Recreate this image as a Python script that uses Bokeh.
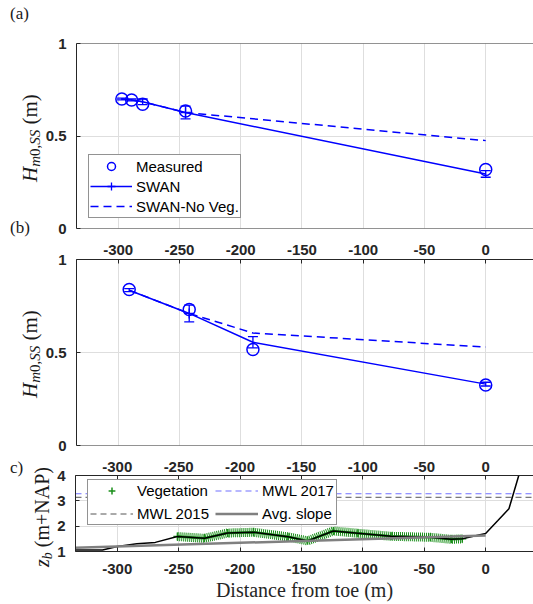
import numpy as np
from bokeh.plotting import figure
from bokeh.models import (ColumnDataSource, Whisker, TeeHead, Legend, LegendItem, Div,
                          FixedTicker, LinearAxis, Range1d, Span)
from bokeh.layouts import column, row
from bokeh.embed import file_html
from bokeh.resources import INLINE

# ---------------- data ----------------
x_ticks = [-300, -250, -200, -150, -100, -50, 0]
x_tick_labels = ["-300", "-250", "-200", "-150", "-100", "-50", "0"]
h_ticks = [0, 0.5, 1]
h_tick_labels = ["0", "0.5", "1"]
z_ticks = [1, 2, 3, 4]
z_tick_labels = ["1", "2", "3", "4"]

# panel (a)
a_x = [-297, -289, -280, -245, 0]
a_measured = [0.700, 0.695, 0.672, 0.635, 0.319]
a_swan = [0.700, 0.695, 0.685, 0.627, 0.295]
a_swan_err = [0.005, 0.005, 0.015, 0.034, 0.018]
a_swan_noveg = [0.700, 0.695, 0.685, 0.627, 0.475]

# panel (b)
b_x = [-291, -242, -190, 0]
b_measured = [0.839, 0.731, 0.516, 0.325]
b_swan = [0.835, 0.710, 0.555, 0.330]
b_swan_err = [0.008, 0.045, 0.030, 0.010]
b_swan_noveg = [0.835, 0.710, 0.605, 0.529]

# panel (c)
bed_x = [-334, -312, -300, -284, -269, -251, -229, -210, -189, -161, -145, -124,
         -104, -77, -45, -28, -19, 0, 10, 19, 27, 32]
bed_z = [1.06, 1.06, 1.20, 1.31, 1.36, 1.59, 1.52, 1.73, 1.76, 1.58, 1.42, 1.81,
         1.72, 1.60, 1.56, 1.48, 1.50, 1.71, 2.22, 2.69, 4.0, 4.6]
veg_x = [-251, -229, -210, -189, -161, -145, -124, -104, -77, -45, -28, -19]
veg_z = [1.59, 1.52, 1.73, 1.76, 1.58, 1.42, 1.81, 1.72, 1.60, 1.56, 1.48, 1.50]
slope_x = [-334, 0]
slope_z = [1.15, 1.63]
mwl_2017 = 3.28
mwl_2015 = 3.14

# ---------------- style ----------------
X0, X1 = -334, 39
W = 533
AXC = "#262626"
GRID = "#dedede"
BLUE = "#0000ff"
GREEN = "#1a8f1a"
SANS = "Liberation Sans"
SERIF = "Liberation Serif"
FRAME_LEFT = 75

x_over = dict(zip(x_ticks, x_tick_labels))
h_over = dict(zip(h_ticks, h_tick_labels))
z_over = dict(zip(z_ticks, z_tick_labels))


def style_axis(ax, ticks, overrides, standoff):
    ax.ticker = FixedTicker(ticks=ticks)
    ax.major_label_overrides = overrides
    ax.axis_line_color = AXC
    ax.major_tick_line_color = AXC
    ax.major_tick_in = 4
    ax.major_tick_out = 0
    ax.minor_tick_line_color = None
    ax.major_label_text_font = SANS
    ax.major_label_text_font_style = "bold"
    ax.major_label_text_font_size = "15px"
    ax.major_label_text_color = AXC
    ax.major_label_standoff = standoff


def make_fig(lw, h, top, bottom, yr, yticks, yover):
    p = figure(width=W - lw, height=h, x_range=Range1d(X0, X1), y_range=Range1d(*yr),
               output_backend="svg", toolbar_location=None,
               min_border_left=FRAME_LEFT - lw, min_border_right=0,
               min_border_top=top, min_border_bottom=bottom)
    p.outline_line_color = None
    style_axis(p.xaxis[0], x_ticks, x_over, 12)
    style_axis(p.yaxis[0], yticks, yover, 10)
    p.xgrid.ticker = FixedTicker(ticks=x_ticks)
    p.ygrid.ticker = FixedTicker(ticks=yticks)
    p.xgrid.grid_line_color = GRID
    p.ygrid.grid_line_color = GRID
    return p


def add_top_labels(p, standoff):
    top = LinearAxis()
    style_axis(top, x_ticks, x_over, standoff)
    p.add_layout(top, "above")


def span_html(html, left, top, size, rotate):
    rot = "transform:rotate(-90deg);transform-origin:0 0;" if rotate else ""
    return (f'<span style="position:absolute;left:{left}px;top:{top}px;'
            f'font-family:\'{SERIF}\';font-size:{size}px;line-height:1;white-space:nowrap;'
            f'color:#1a1a1a;{rot}">{html}</span>')


def side_div(lw, h, pieces):
    inner = "".join(pieces)
    html = (f'<div style="position:relative;width:{lw}px;height:{h}px;margin:0;padding:0;">'
            f'{inner}</div>')
    return Div(text=html, width=lw, height=h, margin=0)


H_HTML = ('<i>H</i><sub style="font-size:15px;vertical-align:-3px;"><i>m</i>0,<i>SS</i></sub>'
          '&nbsp;(m)')
Z_HTML = ('<i>z</i><sub style="font-size:14px;vertical-align:-3px;"><i>b</i></sub>'
          '&nbsp;(m+NAP)')


def wave_panel(p, xs, meas, swan, err, noveg, bar_index):
    src = ColumnDataSource(dict(x=xs, meas=meas, swan=swan, noveg=noveg,
                                lo=[s - e for s, e in zip(swan, err)],
                                hi=[s + e for s, e in zip(swan, err)]))
    r_nov = p.line("x", "noveg", source=src, line_color=BLUE, line_width=1.5, line_dash="8 5")
    r_swan = p.line("x", "swan", source=src, line_color=BLUE, line_width=1.5)
    p.add_layout(Whisker(source=src, base="x", lower="lo", upper="hi",
                         line_color=BLUE, line_width=1.3,
                         lower_head=TeeHead(size=10, line_color=BLUE, line_width=1.3),
                         upper_head=TeeHead(size=10, line_color=BLUE, line_width=1.3)))
    bar_src = ColumnDataSource(dict(x=[xs[bar_index]], y=[swan[bar_index]]))
    r_bar = p.scatter("x", "y", source=bar_src, marker="cross", size=10,
                      line_color=BLUE, line_width=1.3)
    r_meas = p.scatter("x", "meas", source=src, marker="circle", size=12,
                       fill_color=None, line_color=BLUE, line_width=1.5)
    return r_meas, r_swan, r_bar, r_nov


# ---------------- panel (a) ----------------
LA, HA = 42, 237
pa = make_fig(LA, HA, 43, 9, (0, 1), h_ticks, h_over)
pa.xaxis.visible = False
pa.add_layout(Span(location=1, dimension="width", line_color=AXC, line_width=1))
pa.add_layout(Span(location=0, dimension="width", line_color=AXC, line_width=1))
ra_meas, ra_swan, ra_bar, ra_nov = wave_panel(pa, a_x, a_measured, a_swan, a_swan_err,
                                              a_swan_noveg, 3)
leg_a = Legend(items=[LegendItem(label="Measured", renderers=[ra_meas]),
                      LegendItem(label="SWAN", renderers=[ra_swan, ra_bar]),
                      LegendItem(label="SWAN-No Veg.", renderers=[ra_nov])],
               location=(12, 10), label_text_font=SANS, label_text_font_size="15px",
               label_text_color="black", glyph_width=42, glyph_height=20, label_height=20,
               padding=1, spacing=0, label_standoff=4, margin=0,
               border_line_color=AXC, border_line_width=1, background_fill_alpha=1)
pa.add_layout(leg_a)
sa = side_div(LA, HA, [span_html(H_HTML, 20, 182, 21, True),
                       span_html("(a)", 10, 5, 17, False),
                       span_html("(b)", 10, 219, 17, False)])

# ---------------- panel (b) ----------------
LB, HB = 42, 217
pb = make_fig(LB, HB, 22, 9, (0, 1), h_ticks, h_over)
pb.xaxis.visible = False
add_top_labels(pb, 5)          # tick labels belonging to panel (a)
pb.add_layout(Span(location=1, dimension="width", line_color=AXC, line_width=1))
pb.add_layout(Span(location=0, dimension="width", line_color=AXC, line_width=1))
wave_panel(pb, b_x, b_measured, b_swan, b_swan_err, b_swan_noveg, 1)
sb = side_div(LB, HB, [span_html(H_HTML, 20, 161, 21, True)])

# ---------------- panel (c) ----------------
LC, HC = 54, 150
pc = make_fig(LC, HC, 21, 53, (1, 4), z_ticks, z_over)
add_top_labels(pc, 4)          # tick labels belonging to panel (b)
bottom_c = pc.below[0]
bottom_c.axis_label = "Distance from toe (m)"
bottom_c.axis_label_text_font = SERIF
bottom_c.axis_label_text_font_style = "normal"
bottom_c.axis_label_text_font_size = "20px"
bottom_c.axis_label_text_color = "#262626"
bottom_c.axis_label_standoff = 2

line_src = ColumnDataSource(dict(x=[X0, X1], m17=[mwl_2017, mwl_2017], m15=[mwl_2015, mwl_2015]))
r_m17 = pc.line("x", "m17", source=line_src, line_color="#7070ff", line_width=1.2, line_dash="6 4")
r_m15 = pc.line("x", "m15", source=line_src, line_color="#555555", line_width=1.0, line_dash="6 4")
pc.line(veg_x, veg_z, line_color=GREEN, line_width=9, line_dash="1 1")
pc.line(veg_x, veg_z, line_color=GREEN, line_width=2.5)
r_veg = pc.scatter(veg_x, veg_z, marker="cross", size=8, line_color=GREEN, line_width=1.5)
pc.line(bed_x, bed_z, line_color="black", line_width=1.5)
r_slope = pc.line(slope_x, slope_z, line_color="#808080", line_width=2.5)

leg_c = Legend(items=[LegendItem(label="Vegetation", renderers=[r_veg]),
                      LegendItem(label="MWL 2017", renderers=[r_m17]),
                      LegendItem(label="MWL 2015", renderers=[r_m15]),
                      LegendItem(label="Avg. slope", renderers=[r_slope])],
               orientation="horizontal", ncols=2,
               location=(12, 26), label_text_font=SANS, label_text_font_size="15px",
               label_text_color="black", glyph_width=43, glyph_height=17, label_height=17,
               padding=2, spacing=6, label_standoff=4, margin=0,
               border_line_color=AXC, border_line_width=1, background_fill_alpha=1)
pc.add_layout(leg_c)
sc = side_div(LC, HC, [span_html(Z_HTML, 32, 113, 20, True),
                       span_html("c)", 10, 5, 17, False)])

layout = column(row(sa, pa, spacing=0), row(sb, pb, spacing=0), row(sc, pc, spacing=0),
                spacing=0)

open("out.html", "w").write(file_html(layout, INLINE))
